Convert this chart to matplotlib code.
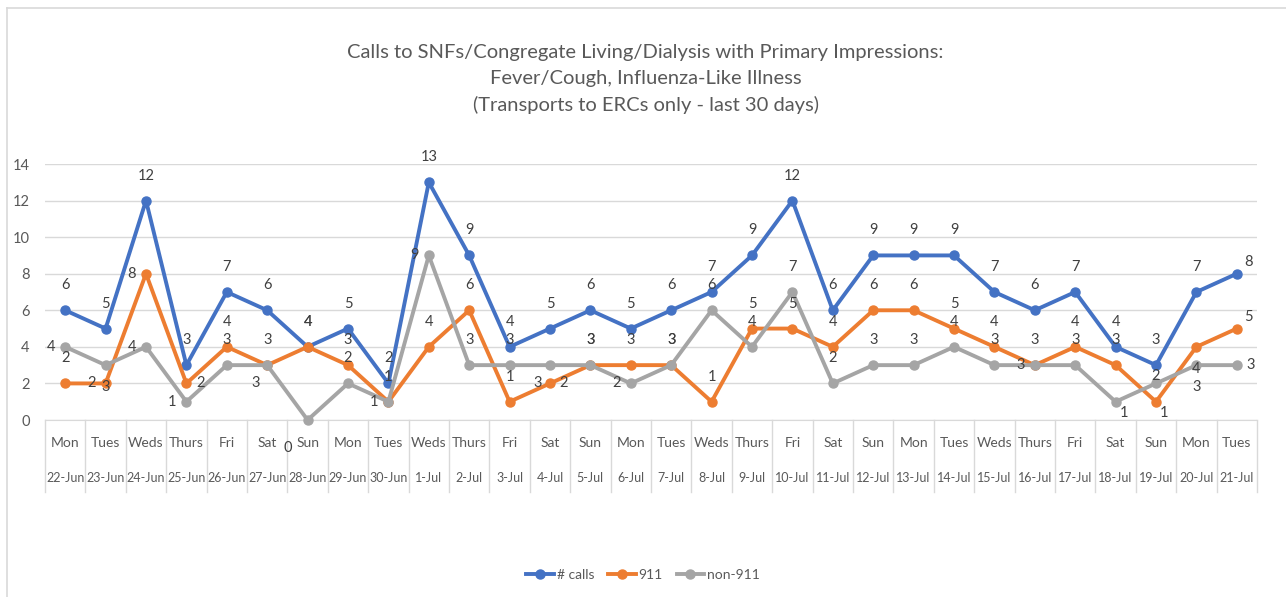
import matplotlib
matplotlib.use("Agg")
import matplotlib.pyplot as plt
from matplotlib.lines import Line2D
import matplotlib.transforms as mtransforms

plt.rcParams['font.family'] = ['Lato', 'DejaVu Sans']

# data
days = ['Mon', 'Tues', 'Weds', 'Thurs', 'Fri', 'Sat', 'Sun',
        'Mon', 'Tues', 'Weds', 'Thurs', 'Fri', 'Sat', 'Sun',
        'Mon', 'Tues', 'Weds', 'Thurs', 'Fri', 'Sat', 'Sun',
        'Mon', 'Tues', 'Weds', 'Thurs', 'Fri', 'Sat', 'Sun',
        'Mon', 'Tues']
dates = ['22-Jun', '23-Jun', '24-Jun', '25-Jun', '26-Jun', '27-Jun', '28-Jun',
         '29-Jun', '30-Jun', '1-Jul', '2-Jul', '3-Jul', '4-Jul', '5-Jul',
         '6-Jul', '7-Jul', '8-Jul', '9-Jul', '10-Jul', '11-Jul', '12-Jul',
         '13-Jul', '14-Jul', '15-Jul', '16-Jul', '17-Jul', '18-Jul', '19-Jul',
         '20-Jul', '21-Jul']
calls = [6, 5, 12, 3, 7, 6, 4, 5, 2, 13, 9, 4, 5, 6, 5, 6, 7, 9, 12, 6,
         9, 9, 9, 7, 6, 7, 4, 3, 7, 8]
calls_911 = [2, 2, 8, 2, 4, 3, 4, 3, 1, 4, 6, 1, 2, 3, 3, 3, 1, 5, 5, 4,
             6, 6, 5, 4, 3, 4, 3, 1, 4, 5]
non_911 = [4, 3, 4, 1, 3, 3, 0, 2, 1, 9, 3, 3, 3, 3, 2, 3, 6, 4, 7, 2,
           3, 3, 4, 3, 3, 3, 1, 2, 3, 3]

# where each data label sits relative to its point (like the Excel chart)
pos_calls = ['a'] * 29 + ['ar']
pos_911 = ['a', 'l', 'l', 'r', 'a', 'a', 'a', 'a', 'a', 'a',
           'a', 'a', 'r', 'a', 'a', 'a', 'a', 'a', 'a', 'a',
           'a', 'a', 'a', 'a', 'a', 'a', 'a', 'br', 'b', 'ar']
pos_non = ['l', 'b', 'l', 'l', 'a', 'bl', 'bl2', 'a', 'l', 'l',
           'a', 'a', 'bl', 'a', 'l', 'a', 'a', 'a', 'a', 'a',
           'a', 'a', 'a', 'a', 'l', 'a', 'br', 'c', 'b', 'r']
offsets = {'a': (0, 25), 'b': (0, -22), 'l': (-14, 0), 'r': (14, 0),
           'bl': (-12, -18), 'bl2': (-20, -28), 'br': (8, -11),
           'ar': (12, 12), 'c': (0, 7)}

BLUE = '#4472C4'
ORANGE = '#ED7D31'
GRAY = '#A5A5A5'
TXT = '#595959'

fig = plt.figure(figsize=(12.86, 5.97), dpi=100)
ax = fig.add_axes([45 / 1286, 1 - 420 / 597, 1212 / 1286, 256 / 597])

x = list(range(len(days)))
series = [(calls, BLUE, '# calls', pos_calls),
          (calls_911, ORANGE, '911', pos_911),
          (non_911, GRAY, 'non-911', pos_non)]
for vals, col, name, pos in series:
    ax.plot(x, vals, color=col, lw=2.8, marker='o', ms=6.5, label=name,
            clip_on=False, zorder=3)

for vals, col, name, pos in series:
    for i, v in enumerate(vals):
        dx, dy = offsets[pos[i]]
        ax.annotate(str(v), (i, v), xytext=(dx * 0.72, dy * 0.72),
                    textcoords='offset points', ha='center', va='center',
                    fontsize=10.5, color='#404040', annotation_clip=False,
                    zorder=4)

ax.set_xlim(-0.5, len(days) - 0.5)
ax.set_ylim(0, 14)
ax.set_yticks(range(0, 15, 2))
ax.tick_params(axis='y', length=0, pad=11, labelsize=10.5, labelcolor=TXT)
ax.set_xticks([])
ax.grid(axis='y', color='#D9D9D9', lw=1)
ax.set_axisbelow(True)
for s in ['top', 'right', 'left']:
    ax.spines[s].set_visible(False)
ax.spines['bottom'].set_color('#D9D9D9')

# two-level category axis
trans = mtransforms.blended_transform_factory(ax.transData, ax.transAxes)
for i in x:
    ax.text(i, -0.09, days[i], transform=trans, ha='center', va='center',
            fontsize=10, color=TXT)
    ax.text(i, -0.227, dates[i], transform=trans, ha='center', va='center',
            fontsize=9, color=TXT)
for i in range(len(days) + 1):
    ax.plot([i - 0.5, i - 0.5], [0, -0.281], transform=trans, color='#D9D9D9',
            lw=1, clip_on=False)

fig.text(0.502, 1 - 79 / 597,
         'Calls to SNFs/Congregate Living/Dialysis with Primary Impressions:\n'
         'Fever/Cough, Influenza-Like Illness\n'
         '(Transports to ERCs only - last 30 days)',
         ha='center', va='center', fontsize=14.5, color=TXT, linespacing=1.6)

handles, labels = ax.get_legend_handles_labels()
fig.legend(handles, labels, loc='center', bbox_to_anchor=(0.5, 1 - 575 / 597),
           ncol=3, frameon=False, fontsize=10, labelcolor=TXT,
           handlelength=2.0, handletextpad=0.2, columnspacing=1.0)

# chart border (top and left edges visible in the crop)
fig.add_artist(Line2D([7 / 1286, 7 / 1286], [0, 1 - 8 / 597],
                      color='#D9D9D9', lw=1.2, transform=fig.transFigure))
fig.add_artist(Line2D([7 / 1286, 1], [1 - 8 / 597, 1 - 8 / 597],
                      color='#D9D9D9', lw=1.2, transform=fig.transFigure))

fig.savefig('out.png', dpi=100, facecolor='white')
